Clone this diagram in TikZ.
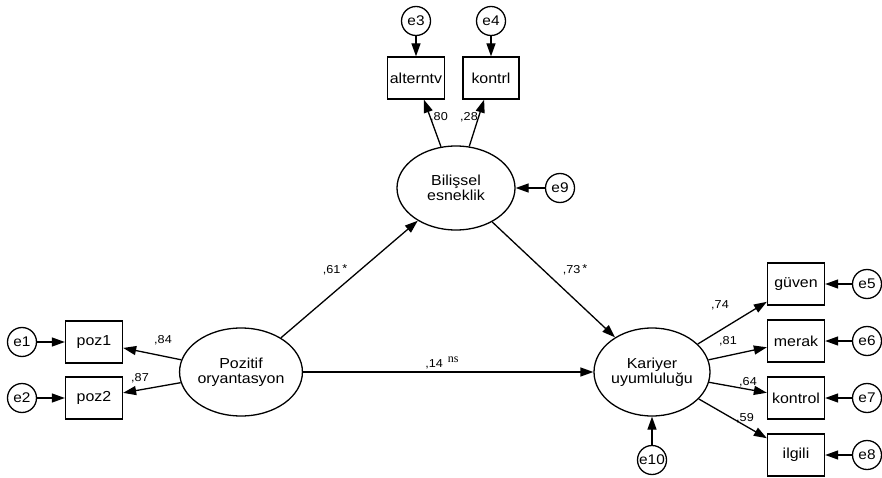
\documentclass[tikz,border=0pt]{standalone}
\usepackage{fontspec}
\setmainfont{Liberation Sans}
\newfontfamily\amosfont[FakeStretch=1.1]{Liberation Sans}
\newfontfamily\nsfont{Liberation Serif}
\usetikzlibrary{shapes.geometric}
\usetikzlibrary{arrows.meta}

\begin{document}
\begin{tikzpicture}[x=1pt, y=-1pt, >={Triangle[length=13pt,width=9pt]}, line width=1.3pt,
	latent/.style={draw=black, fill=white, ellipse, inner sep=0pt, minimum width=118pt, minimum height=86pt, align=center, font=\amosfont\fontsize{14.5}{15}\selectfont},
	observed/.style={draw=black, fill=white, rectangle, inner sep=0pt, minimum width=57pt, minimum height=42pt, font=\amosfont\fontsize{14.5}{15}\selectfont},
	error/.style={draw=black, fill=white, circle, inner sep=0pt, minimum size=29pt, font=\amosfont\fontsize{14}{14}\selectfont},
	coef/.style={inner sep=0pt, font=\amosfont\fontsize{11.5}{12}\selectfont}]

  \useasboundingbox (0,0) rectangle (882,478);

  % latent variables
  \node[latent, minimum width=122pt, minimum height=88pt] (poz) at (241,372) {Pozitif\\oryantasyon};
  \node[latent, minimum height=84pt] (bil) at (456,188) {Bilişsel\\esneklik};
  \node[latent, minimum width=116pt, minimum height=88pt] (kar) at (652,372) {Kariyer\\uyumluluğu};

  % indicators
  \node[observed] (poz1) at (94,342) {poz1};
  \node[observed] (poz2) at (94,398) {poz2};
  \node[observed] (alt) at (416,78) {alterntv};
  \node[observed, minimum width=56pt] (kon) at (491,78) {kontrl};
  \node[observed] (guv) at (796,284) {güven};
  \node[observed] (mer) at (796,341) {merak};
  \node[observed] (ktr) at (796,398) {kontrol};
  \node[observed] (ilg) at (796,455) {ilgili};

  % errors
  \node[error] (e1) at (22,342) {e1};
  \node[error] (e2) at (22,398) {e2};
  \node[error] (e3) at (416,21) {e3};
  \node[error] (e4) at (491,21) {e4};
  \node[error] (e5) at (867,284) {e5};
  \node[error] (e6) at (867,341) {e6};
  \node[error] (e7) at (867,398) {e7};
  \node[error] (e8) at (867,455) {e8};
  \node[error] (e9) at (560,188) {e9};
  \node[error] (e10) at (652,460) {e10};

  % structural paths
  \path[->] (poz) edge (bil);
  \path[->] (bil) edge (kar);
  \path[->] (poz) edge (kar);

  % loadings
  \path[->] (poz) edge (poz1);
  \path[->] (poz) edge (poz2);
  \path[->] (bil) edge (alt);
  \path[->] (bil) edge (kon);
  \path[->] (kar) edge (guv);
  \path[->] (kar) edge (mer);
  \path[->] (kar) edge (ktr);
  \path[->] (kar) edge (ilg);

  % error terms
  \path[->] (e1) edge (poz1);
  \path[->] (e2) edge (poz2);
  \path[->] (e3) edge (alt);
  \path[->] (e4) edge (kon);
  \path[->] (e5) edge (guv);
  \path[->] (e6) edge (mer);
  \path[->] (e7) edge (ktr);
  \path[->] (e8) edge (ilg);
  \path[->] (e9) edge (bil);
  \path[->] (e10) edge (kar);

  % coefficients
  \node[coef] (c84) at (163,340) {,84};
  \node[coef] (c87) at (140,378) {,87};
  \node[coef] (c80) at (439,117) {,80};
  \node[coef] (c28) at (469,117) {,28};
  \node[coef] (c61) at (335,270) {,61\,\raisebox{1pt}{*}};
  \node[coef] (c73) at (575,270) {,73\,\raisebox{1pt}{*}};
  \node[coef] (c14) at (442,363) {,14\hspace{5pt}\raisebox{5pt}{\nsfont\fontsize{12}{12}\selectfont ns}};
  \node[coef] (c74) at (720,305) {,74};
  \node[coef] (c81) at (728,341) {,81};
  \node[coef] (c64) at (748,382) {,64};
  \node[coef] (c59) at (745,418) {,59};
\end{tikzpicture}
\end{document}
